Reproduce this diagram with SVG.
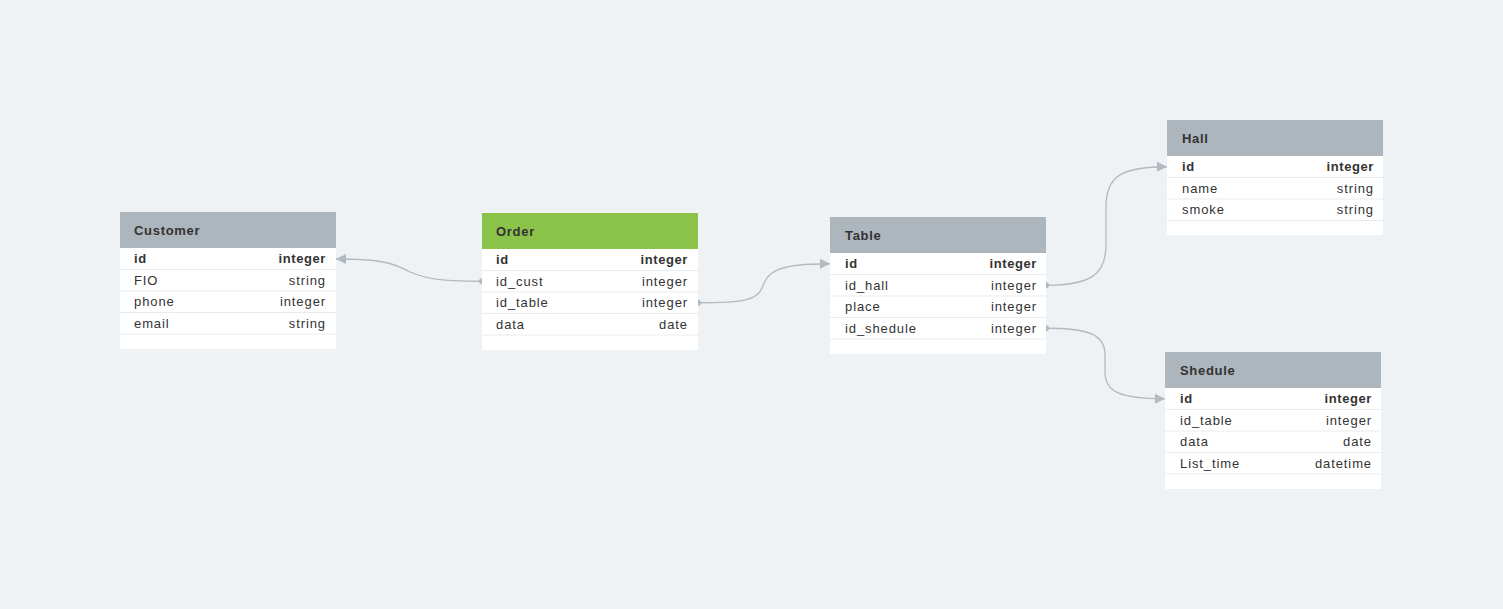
<svg xmlns="http://www.w3.org/2000/svg" width="1503" height="609" viewBox="0 0 1503 609">
<defs>
<style>
.bg{fill:#eef2f5}
.hd{fill:#adb5bd}
.hdg{fill:#8bc34a}
.body{fill:#ffffff}
.sep{stroke:#e8ebee;stroke-width:1}
.title{font-family:"Liberation Sans",Arial,sans-serif;font-size:13px;font-weight:bold;fill:#333333;letter-spacing:0.7px}
.f{font-family:"Liberation Sans",Arial,sans-serif;font-size:13px;fill:#333333;letter-spacing:0.9px}
.pk{font-weight:bold;letter-spacing:0.6px}
.t{text-anchor:end}
.conn{fill:none;stroke:#b3b9c0;stroke-width:1.3}
.dot{fill:#b3b9c0}
</style>
<marker id="arr" markerUnits="userSpaceOnUse" markerWidth="10" markerHeight="10" viewBox="0 0 10 10" refX="10" refY="5" orient="auto">
<path d="M0,0 L10,5 L0,10 z" fill="#b3b9c0"/>
</marker>
</defs>
<rect class="bg" x="0" y="0" width="1503" height="609"/>

<g id="connectors">
<path class="conn" d="M 482 281.25 C 435 281.25, 425 278, 410 272 C 395 264, 385 259, 336 259" marker-end="url(#arr)"/>
<circle class="dot" cx="482" cy="281.25" r="3"/>
<path class="conn" d="M 698 302.75 C 745 302.75, 757 300, 762 288 C 768 272, 775 263.75, 830 263.75" marker-end="url(#arr)"/>
<circle class="dot" cx="698" cy="302.75" r="3"/>
<path class="conn" d="M 1046 285.25 C 1090 285.25, 1106 275, 1106 245 L 1106 207 C 1106 177, 1120 166.75, 1167 166.75" marker-end="url(#arr)"/>
<circle class="dot" cx="1046" cy="285.25" r="3"/>
<path class="conn" d="M 1046 328.25 C 1090 328.25, 1105 335, 1105 355 L 1105 372 C 1105 392, 1120 398.75, 1165 398.75" marker-end="url(#arr)"/>
<circle class="dot" cx="1046" cy="328.25" r="3"/>
</g>

<g id="customer">
<rect class="body" x="120" y="212" width="216" height="137"/>
<rect class="hd" x="120" y="212" width="216" height="36"/>
<text class="title" x="134" y="235">Customer</text>
<line class="sep" x1="120" y1="269.5" x2="336" y2="269.5"/>
<line class="sep" x1="120" y1="291" x2="336" y2="291"/>
<line class="sep" x1="120" y1="312.5" x2="336" y2="312.5"/>
<line class="sep" x1="120" y1="334" x2="336" y2="334"/>
<text class="f pk" x="134" y="263">id</text><text class="f pk t" x="326" y="263">integer</text>
<text class="f" x="134" y="284.5">FIO</text><text class="f t" x="326" y="284.5">string</text>
<text class="f" x="134" y="306">phone</text><text class="f t" x="326" y="306">integer</text>
<text class="f" x="134" y="327.5">email</text><text class="f t" x="326" y="327.5">string</text>
</g>

<g id="order">
<rect class="body" x="482" y="213" width="216" height="137"/>
<rect class="hdg" x="482" y="213" width="216" height="36"/>
<text class="title" x="496" y="236">Order</text>
<line class="sep" x1="482" y1="270.5" x2="698" y2="270.5"/>
<line class="sep" x1="482" y1="292" x2="698" y2="292"/>
<line class="sep" x1="482" y1="313.5" x2="698" y2="313.5"/>
<line class="sep" x1="482" y1="335" x2="698" y2="335"/>
<text class="f pk" x="496" y="264">id</text><text class="f pk t" x="688" y="264">integer</text>
<text class="f" x="496" y="285.5">id_cust</text><text class="f t" x="688" y="285.5">integer</text>
<text class="f" x="496" y="307">id_table</text><text class="f t" x="688" y="307">integer</text>
<text class="f" x="496" y="328.5">data</text><text class="f t" x="688" y="328.5">date</text>
</g>

<g id="table">
<rect class="body" x="830" y="217" width="216" height="137"/>
<rect class="hd" x="830" y="217" width="216" height="36"/>
<text class="title" x="845" y="240">Table</text>
<line class="sep" x1="830" y1="274.5" x2="1046" y2="274.5"/>
<line class="sep" x1="830" y1="296" x2="1046" y2="296"/>
<line class="sep" x1="830" y1="317.5" x2="1046" y2="317.5"/>
<line class="sep" x1="830" y1="339" x2="1046" y2="339"/>
<text class="f pk" x="845" y="268">id</text><text class="f pk t" x="1037" y="268">integer</text>
<text class="f" x="845" y="289.5">id_hall</text><text class="f t" x="1037" y="289.5">integer</text>
<text class="f" x="845" y="311">place</text><text class="f t" x="1037" y="311">integer</text>
<text class="f" x="845" y="332.5">id_shedule</text><text class="f t" x="1037" y="332.5">integer</text>
</g>

<g id="hall">
<rect class="body" x="1167" y="120" width="216" height="115"/>
<rect class="hd" x="1167" y="120" width="216" height="36"/>
<text class="title" x="1182" y="143">Hall</text>
<line class="sep" x1="1167" y1="177.5" x2="1383" y2="177.5"/>
<line class="sep" x1="1167" y1="199" x2="1383" y2="199"/>
<line class="sep" x1="1167" y1="220.5" x2="1383" y2="220.5"/>
<text class="f pk" x="1182" y="171">id</text><text class="f pk t" x="1374" y="171">integer</text>
<text class="f" x="1182" y="192.5">name</text><text class="f t" x="1374" y="192.5">string</text>
<text class="f" x="1182" y="214">smoke</text><text class="f t" x="1374" y="214">string</text>
</g>

<g id="shedule">
<rect class="body" x="1165" y="352" width="216" height="137"/>
<rect class="hd" x="1165" y="352" width="216" height="36"/>
<text class="title" x="1180" y="375">Shedule</text>
<line class="sep" x1="1165" y1="409.5" x2="1381" y2="409.5"/>
<line class="sep" x1="1165" y1="431" x2="1381" y2="431"/>
<line class="sep" x1="1165" y1="452.5" x2="1381" y2="452.5"/>
<line class="sep" x1="1165" y1="474" x2="1381" y2="474"/>
<text class="f pk" x="1180" y="403">id</text><text class="f pk t" x="1372" y="403">integer</text>
<text class="f" x="1180" y="424.5">id_table</text><text class="f t" x="1372" y="424.5">integer</text>
<text class="f" x="1180" y="446">data</text><text class="f t" x="1372" y="446">date</text>
<text class="f" x="1180" y="467.5">List_time</text><text class="f t" x="1372" y="467.5">datetime</text>
</g>
</svg>
